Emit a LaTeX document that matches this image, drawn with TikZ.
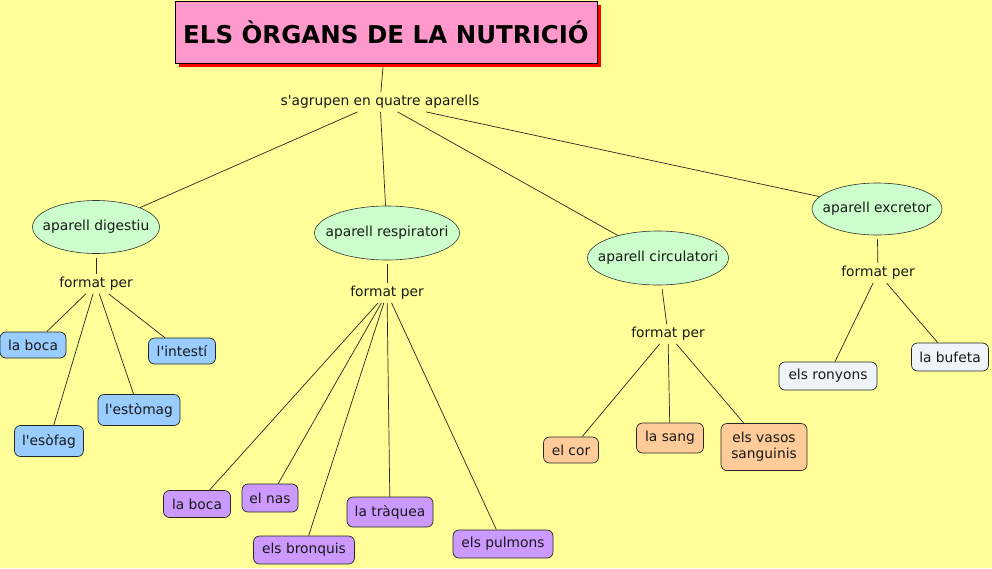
\documentclass[tikz,border=0pt]{standalone}
\usepackage{fontspec}
\setmainfont{DejaVu Sans}
\newfontfamily\djv{DejaVu Sans}
\usetikzlibrary{shapes.geometric,shadows}
\definecolor{bgyellow}{RGB}{255,255,153}
\definecolor{titlepink}{RGB}{255,153,204}
\definecolor{shadowred}{RGB}{255,0,0}
\definecolor{ellgreen}{RGB}{204,255,204}
\definecolor{leafblue}{RGB}{153,204,255}
\definecolor{leafpurple}{RGB}{204,153,255}
\definecolor{leaforange}{RGB}{255,204,153}
\definecolor{leafgray}{RGB}{238,244,250}
\begin{document}
\begin{tikzpicture}[x=1pt,y=-1pt,
  every node/.style={font=\djv\fontsize{13.8}{16}\selectfont, text=black!90},
  titlebox/.style={draw=black, line width=0.9pt, fill=titlepink, minimum width=422pt, minimum height=62pt,
     font=\djv\fontsize{24.5}{28}\selectfont\bfseries, text=black,
     drop shadow={shadow xshift=4pt, shadow yshift=-4pt, fill=shadowred, opacity=1}},
  linklabel/.style={inner sep=3pt},
  apar/.style={ellipse, draw=black!80, line width=0.6pt, fill=ellgreen, inner sep=0pt},
  leaf/.style={draw=black!85, line width=0.7pt, rounded corners=6pt, inner sep=0pt, align=center},
  conn/.style={draw=black!85, line width=0.7pt},
  gapconn/.style={conn, shorten <=4pt}
]
\useasboundingbox[fill=bgyellow] (0,0) rectangle (992,568);

% title and top link
\node[titlebox] (title) at (386,32) {ELS ÒRGANS DE LA NUTRICIÓ};
\node[linklabel] (sag) at (380,102) {s'agrupen en quatre aparells};

% systems (ellipse shapes, text placed on them)
\node[apar, minimum width=127pt, minimum height=53pt] (dig) at (96,227) {};
\node at (dig.center) {aparell digestiu};
\node[apar, minimum width=145pt, minimum height=54pt] (resp) at (387,233) {};
\node at (resp.center) {aparell respiratori};
\node[apar, minimum width=141pt, minimum height=54pt] (circ) at (658,258) {};
\node at (circ.center) {aparell circulatori};
\node[apar, minimum width=130pt, minimum height=52pt] (exc) at (877,209) {};
\node at (exc.center) {aparell excretor};

% link labels
\node[linklabel] (fp1) at (96,284) {format per};
\node[linklabel] (fp2) at (387,293) {format per};
\node[linklabel] (fp3) at (668,334) {format per};
\node[linklabel] (fp4) at (878,273) {format per};

% digestiu leaves
\node[leaf, fill=leafblue, minimum width=66pt, minimum height=26pt] (boca1) at (33,345) {la boca};
\node[leaf, fill=leafblue, minimum width=67pt, minimum height=26pt] (intesti) at (182,351) {l'intestí};
\node[leaf, fill=leafblue, minimum width=82pt, minimum height=31pt] (estomag) at (139,410) {l'estòmag};
\node[leaf, fill=leafblue, minimum width=69pt, minimum height=31pt] (esofag) at (49,441) {l'esòfag};

% respiratori leaves
\node[leaf, fill=leafpurple, minimum width=67pt, minimum height=27pt] (boca2) at (197,504) {la boca};
\node[leaf, fill=leafpurple, minimum width=56pt, minimum height=28pt] (nas) at (270,498) {el nas};
\node[leaf, fill=leafpurple, minimum width=101pt, minimum height=28pt] (bronquis) at (304,550) {els bronquis};
\node[leaf, fill=leafpurple, minimum width=86pt, minimum height=30pt] (traquea) at (390,512) {la tràquea};
\node[leaf, fill=leafpurple, minimum width=100pt, minimum height=28pt] (pulmons) at (503,544) {els pulmons};

% circulatori leaves
\node[leaf, fill=leaforange, minimum width=55pt, minimum height=26pt] (cor) at (571,450) {el cor};
\node[leaf, fill=leaforange, minimum width=67pt, minimum height=30pt] (sang) at (670,438) {la sang};
\node[leaf, fill=leaforange, minimum width=86pt, minimum height=47pt] (vasos) at (764,447) {els vasos\\sanguinis};

% excretor leaves
\node[leaf, fill=leafgray, minimum width=98pt, minimum height=28pt] (ronyons) at (828,376) {els ronyons};
\node[leaf, fill=leafgray, minimum width=77pt, minimum height=28pt] (bufeta) at (950,357) {la bufeta};

% connectors
\draw[gapconn] (title) -- (sag);
\draw[conn] (sag) -- (dig);
\draw[conn] (sag) -- (resp);
\draw[conn] (sag) -- (circ);
\draw[conn] (sag) -- (exc);

\draw[gapconn] (dig) -- (fp1);
\draw[conn] (fp1) -- (boca1);
\draw[conn] (fp1) -- (esofag);
\draw[conn] (fp1) -- (estomag);
\draw[conn] (fp1) -- (intesti);

\draw[gapconn] (resp) -- (fp2);
\draw[conn] (fp2) -- (boca2);
\draw[conn] (fp2) -- (nas);
\draw[conn] (fp2) -- (bronquis);
\draw[conn] (fp2) -- (traquea);
\draw[conn] (fp2) -- (pulmons);

\draw[gapconn] (circ) -- (fp3);
\draw[conn] (fp3) -- (cor);
\draw[conn] (fp3) -- (sang);
\draw[conn] (fp3) -- (vasos);

\draw[gapconn] (exc) -- (fp4);
\draw[conn] (fp4) -- (ronyons);
\draw[conn] (fp4) -- (bufeta);
\end{tikzpicture}
\end{document}
